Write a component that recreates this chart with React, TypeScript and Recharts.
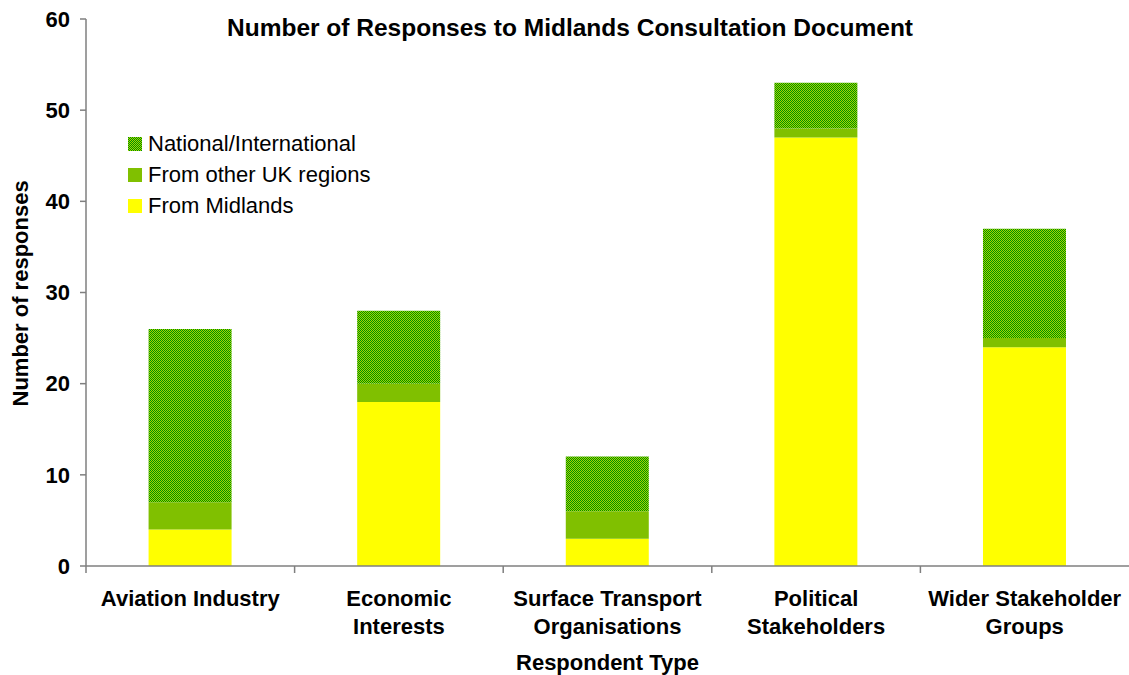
import React from 'react';
import { Bar, BarChart, XAxis, YAxis } from 'recharts';

const categories = [
  'Aviation Industry',
  'Economic Interests',
  'Surface Transport Organisations',
  'Political Stakeholders',
  'Wider Stakeholder Groups',
];
const tickLines: string[][] = [
  ['Aviation Industry'],
  ['Economic', 'Interests'],
  ['Surface Transport', 'Organisations'],
  ['Political', 'Stakeholders'],
  ['Wider Stakeholder', 'Groups'],
];
const fromMidlands = [4, 18, 3, 47, 24];
const fromOtherUK = [3, 2, 3, 1, 1];
const national = [19, 8, 6, 5, 12];
const yTicks = [0, 10, 20, 30, 40, 50, 60];

const data = categories.map((name, i) => ({
  name,
  midlands: fromMidlands[i],
  otherUK: fromOtherUK[i],
  national: national[i],
}));

const FONT = '"Liberation Sans", Arial, sans-serif';
const W = 1129;
const H = 675;
const PLOT_LEFT = 86;
const BAND = (W - PLOT_LEFT) / categories.length;

const CategoryTick = ({ x, y, payload, index }: any) => {
  const lines = tickLines[index] || [payload.value];
  return (
    <g>
      <line x1={x - BAND / 2} x2={x - BAND / 2} y1={y - 8} y2={y - 1} stroke="#7f7f7f" strokeWidth={1.5} />
      <text x={x} y={y} textAnchor="middle" fontFamily={FONT} fontWeight="bold" fontSize={22} fill="#000">
        {lines.map((l, i) => (
          <tspan key={i} x={x} dy={i === 0 ? 32 : 28}>
            {l}
          </tspan>
        ))}
      </text>
    </g>
  );
};

const PatternDef = ({ id }: { id: string }) => (
  <pattern id={id} width={2} height={2} patternUnits="userSpaceOnUse">
    <rect width={2} height={2} fill="#a6d400" />
    <rect width={1} height={1} fill="#009000" />
    <rect x={1} y={1} width={1} height={1} fill="#009000" />
  </pattern>
);

const legendItems = [
  { label: 'National/International', fill: 'url(#legendPattern)' },
  { label: 'From other UK regions', fill: '#80c000' },
  { label: 'From Midlands', fill: '#ffff00' },
];

const LegendBox = () => (
  <div
    style={{
      position: 'absolute',
      left: 128,
      top: 128,
      fontFamily: FONT,
      fontSize: 22,
      color: '#000',
      zIndex: 2,
    }}
  >
    {legendItems.map((it) => (
      <div key={it.label} style={{ display: 'flex', alignItems: 'center', height: 31 }}>
        <svg width={14} height={14} style={{ marginRight: 6 }}>
          <defs>
            <PatternDef id="legendPattern" />
          </defs>
          <rect width={14} height={14} fill={it.fill} />
        </svg>
        <span>{it.label}</span>
      </div>
    ))}
  </div>
);

export default function App() {
  return (
    <div style={{ position: 'relative', width: W, height: H, background: '#fff' }}>
      <style>{`body{margin:0}`}</style>
      <div
        style={{
          position: 'absolute',
          top: 14,
          left: 0,
          width: 1140,
          textAlign: 'center',
          fontFamily: FONT,
          fontWeight: 'bold',
          fontSize: 24.5,
          color: '#000',
          zIndex: 2,
        }}
      >
        Number of Responses to Midlands Consultation Document
      </div>
      <LegendBox />
      <BarChart
        width={W}
        height={H}
        data={data}
        margin={{ top: 19, right: 0, left: 0, bottom: 0 }}
        barCategoryGap="30%"
      >
        <defs>
          <PatternDef id="natPattern" />
        </defs>
        <XAxis
          dataKey="name"
          height={109}
          interval={0}
          axisLine={{ stroke: '#7f7f7f', strokeWidth: 1.5 }}
          tickLine={false}
          tick={<CategoryTick />}
          label={{
            value: 'Respondent Type',
            position: 'insideBottom',
            offset: 5,
            fontFamily: FONT,
            fontWeight: 'bold',
            fontSize: 22,
            fill: '#000',
          }}
        />
        <YAxis
          width={PLOT_LEFT}
          domain={[0, 60]}
          ticks={yTicks}
          interval={0}
          tickSize={6}
          tickMargin={10}
          axisLine={{ stroke: '#7f7f7f', strokeWidth: 1.5 }}
          tickLine={{ stroke: '#7f7f7f', strokeWidth: 1.5 }}
          tick={{ fontFamily: FONT, fontWeight: 'bold', fontSize: 22, fill: '#000' }}
          label={{
            value: 'Number of responses',
            angle: -90,
            position: 'insideLeft',
            offset: 20,
            dy: 114,
            fontFamily: FONT,
            fontWeight: 'bold',
            fontSize: 22,
            fill: '#000',
          }}
        />
        <Bar dataKey="midlands" name="From Midlands" stackId="a" fill="#ffff00" isAnimationActive={false} />
        <Bar dataKey="otherUK" name="From other UK regions" stackId="a" fill="#80c000" isAnimationActive={false} />
        <Bar dataKey="national" name="National/International" stackId="a" fill="url(#natPattern)" isAnimationActive={false} />
      </BarChart>
    </div>
  );
}
